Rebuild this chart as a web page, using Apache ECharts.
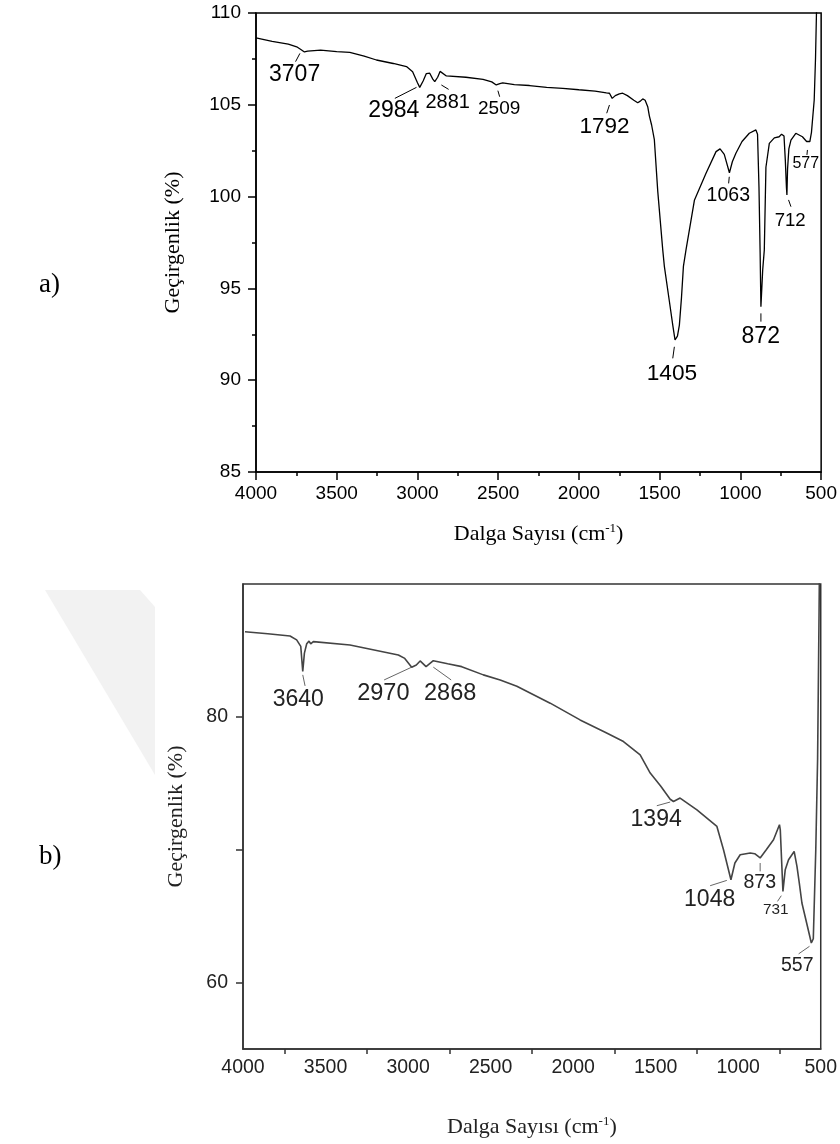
<!DOCTYPE html>
<html><head><meta charset="utf-8">
<script src="https://cdn.jsdelivr.net/npm/echarts@6/dist/echarts.min.js"></script>
<style>html,body{margin:0;padding:0;background:#fff}#c{width:840px;height:1144px}</style>
</head><body><div id="c"></div>
<script>
// ---- Panel a) data ----
const wavenumberA = [4000,3900,3800,3748,3720,3700,3680,3600,3500,3419,3330,3254,3150,3068,3030,3000,2986,2965,2945,2924,2905,2893,2875,2860,2852,2821,2700,2594,2540,2512,2490,2472,2400,2306,2200,2100,2000,1900,1830,1811,1794,1775,1750,1729,1700,1660,1636,1620,1605,1590,1574,1564,1550,1533,1512,1481,1471,1440,1419,1405,1399,1390,1378,1365,1353,1337,1285,1213,1151,1126,1100,1068,1050,1028,990,945,904,894,885,878,873,862,852,842,821,790,760,745,739,730,722,715,712,708,700,687,657,616,590,578,570,560,543,535,529,520];
const transA = [108.65,108.45,108.3,108.16,108.0,107.88,107.92,107.98,107.9,107.86,107.65,107.44,107.25,107.08,106.8,106.2,105.95,106.3,106.7,106.72,106.4,106.26,106.5,106.82,106.8,106.57,106.5,106.39,106.25,106.08,106.15,106.19,106.1,106.05,105.95,105.9,105.82,105.75,105.65,105.63,105.35,105.5,105.6,105.63,105.5,105.25,105.11,105.2,105.32,105.25,104.9,104.4,103.9,103.1,100.3,97.1,96.2,94.3,93.0,92.2,92.1,92.4,93.0,94.5,96.2,97.1,99.8,101.27,102.45,102.6,102.3,101.3,101.9,102.36,103.0,103.45,103.63,103.4,100.5,97.0,94.0,96.0,97.1,101.6,102.9,103.2,103.26,103.4,103.45,103.3,102.0,100.5,100.09,101.5,102.6,103.08,103.45,103.26,103.0,102.9,103.0,103.5,105.26,107.5,110.0,112.0];
const peakLabelsA = ['3707','2984','2881','2509','1792','1063','712','577','1405','872'];
// [text wavenumber, text value, leader start wn, leader start value, leader end wn, leader end value]
const peakAnchorsA = [
  [3761,106.62,3728,107.8,3755,107.35],
  [3147,104.66,3006,105.95,3140,105.35],
  [2813,105.13,2852,106.08,2807,105.84],
  [2494,104.81,2502,105.77,2491,105.44],
  [1842,103.81,1811,104.99,1828,104.54],
  [1075,100.03,1069,101.08,1073,100.72],
  [692,98.67,702,99.82,687,99.45],
  [595,101.78,585,102.54,588,102.27],
  [1424,90.34,1409,91.82,1419,91.19],
  [874,92.37,873,93.64,873,93.19]
];

// ---- Panel b) data ----
const wavenumberB = [3988,3850,3715,3675,3650,3638,3628,3614,3600,3590,3574,3352,3059,3020,2978,2950,2927,2891,2847,2760,2675,2544,2442,2341,2139,1958,1800,1695,1594,1533,1470,1412,1392,1352,1250,1129,1089,1044,1020,988,927,900,867,830,786,750,745,729,715,695,661,644,630,614,580,557,545,530,519,510,505];
const transB = [86.41,86.25,86.09,85.79,85.3,83.41,84.8,85.5,85.7,85.5,85.66,85.41,84.66,84.4,83.74,83.9,84.21,83.78,84.23,84.0,83.78,83.16,82.78,82.3,81.03,79.77,78.8,78.14,77.14,75.77,74.8,73.8,73.63,73.89,73.0,71.75,70.0,67.74,69.0,69.62,69.75,69.7,69.38,70.0,70.75,71.88,71.5,66.86,68.5,69.25,69.87,68.74,67.5,65.99,64.2,62.98,63.3,70.0,76.8,88.0,95.0];
const peakLabelsB = ['3640','2970','2868','1394','1048','873','731','557'];
const peakAnchorsB = [
  [3665,81.28,3638,83.16,3624,82.33],
  [3150,81.73,3145,82.78,2978,83.74],
  [2745,81.73,2847,83.74,2739,82.78],
  [1497,72.26,1493,73.31,1412,73.59],
  [1173,66.26,1170,67.29,1069,67.69],
  [869,67.5,867,69.0,867,68.37],
  [773,65.49,762,66.11,739,66.54],
  [642,61.28,634,62.16,568,62.73]
];

// axis tick labels
const xTicks = [4000,3500,3000,2500,2000,1500,1000,500];
const yTicksA = [85,90,95,100,105,110];
const yTicksB = [60,80];
const xMinorTicksB = [3750,3250,2750,2250,1750,1250,750];
const yTickMarksB = [60,70,80];

// ---- styles (not data) ----
const fontSizeA = {'3707':23,'2984':23,'2881':20,'2509':19,'1792':22.5,'1063':19.5,'712':18.6,'577':16,'1405':22.7,'872':23};
const fontSizeB = {'3640':23,'2970':23.5,'2868':23.5,'1394':23,'1048':23,'873':19.6,'731':15.3,'557':19.5};
const SANS = '"Liberation Sans", Arial, sans-serif';
const SERIF = '"Liberation Serif", "Times New Roman", serif';
const plain = v => String(v);

function zip(a,b){return a.map((x,i)=>[x,b[i]]);}

function annotSeries(gridIdx, labels, anchors, sizes, textColor, lineColor){
  return {
    type:'custom', xAxisIndex:gridIdx, yAxisIndex:gridIdx, clip:false, silent:true,
    encode:{x:[0,2,4], y:[1,3,5]},
    data: anchors,
    renderItem: function(params, api){
      const i = params.dataIndex;
      const t = api.coord([api.value(0), api.value(1)]);
      const a = api.coord([api.value(2), api.value(3)]);
      const b = api.coord([api.value(4), api.value(5)]);
      return {type:'group', children:[
        {type:'line', shape:{x1:a[0],y1:a[1],x2:b[0],y2:b[1]}, style:{stroke:lineColor, lineWidth:1}},
        {type:'text', x:t[0], y:t[1], style:{text:labels[i], align:'center', verticalAlign:'middle',
          fontSize:sizes[labels[i]], fontFamily:SANS, fill:textColor}}
      ]};
    }
  };
}

const axisLineA = {show:true, lineStyle:{color:'#000', width:1.5}};
const axisLineB = {show:true, lineStyle:{color:'#333', width:1.5}};

const option = {
  backgroundColor:'#fff',
  animation:false,
  graphic:[
    {type:'polygon', z:-10, shape:{points:[[45,590],[140,590],[155,607],[155,775]]}, style:{fill:'#f2f2f2'}},
    {type:'text', left:39, top:271, style:{text:'a)', fontSize:27, fontFamily:SERIF, fill:'#000'}},
    {type:'text', left:39, top:843, style:{text:'b)', fontSize:27, fontFamily:SERIF, fill:'#000'}}
  ],
  grid:[
    {left:256, top:13, width:566, height:459, show:true, borderColor:'#000', borderWidth:1.5, backgroundColor:'transparent'},
    {left:243, top:584, width:578, height:465, show:true, borderColor:'#333', borderWidth:1.5, backgroundColor:'#fff'}
  ],
  xAxis:[
    {gridIndex:0, type:'value', min:500, max:4000, interval:500, inverse:true,
     axisLine:axisLineA, splitLine:{show:false},
     axisTick:{show:true, inside:false, length:8, lineStyle:{color:'#000', width:1.5}},
     minorTick:{show:true, splitNumber:2, length:4, lineStyle:{color:'#000', width:1.5}},
     axisLabel:{customValues:xTicks, formatter:plain, margin:12, fontSize:19, fontFamily:SANS, color:'#000'},
     name:'Dalga Sayısı (cm{sup|-1})', nameLocation:'middle', nameGap:50,
     nameTextStyle:{fontSize:22, fontFamily:SERIF, color:'#000', rich:{sup:{fontSize:13, fontFamily:SERIF, verticalAlign:'top', padding:[0,0,12,0]}}}},
    {gridIndex:1, type:'value', min:500, max:4000, interval:500, inverse:true,
     axisLine:axisLineB, splitLine:{show:false},
     axisTick:{show:true, inside:false, length:5, customValues:xMinorTicksB, lineStyle:{color:'#333', width:1.5}},
     axisLabel:{customValues:xTicks, formatter:plain, margin:9, fontSize:19.5, fontFamily:SANS, color:'#222'},
     name:'Dalga Sayısı (cm{sup|-1})', nameLocation:'middle', nameGap:66,
     nameTextStyle:{fontSize:22, fontFamily:SERIF, color:'#222', rich:{sup:{fontSize:13, fontFamily:SERIF, verticalAlign:'top', padding:[0,0,12,0]}}}}
  ],
  yAxis:[
    {gridIndex:0, type:'value', min:85, max:110, interval:5,
     axisLine:axisLineA, splitLine:{show:false},
     axisTick:{show:true, inside:false, length:8, lineStyle:{color:'#000', width:1.5}},
     minorTick:{show:true, splitNumber:2, length:4, lineStyle:{color:'#000', width:1.5}},
     axisLabel:{customValues:yTicksA, formatter:plain, margin:15, fontSize:19, fontFamily:SANS, color:'#000'},
     name:'Geçirgenlik (%)', nameLocation:'middle', nameGap:72, nameRotate:90,
     nameTextStyle:{fontSize:22, fontFamily:SERIF, color:'#000'}},
    {gridIndex:1, type:'value', min:55, max:90,
     axisLine:axisLineB, splitLine:{show:false},
     axisTick:{show:true, inside:false, length:7, customValues:yTickMarksB, lineStyle:{color:'#333', width:1.5}},
     axisLabel:{customValues:yTicksB, formatter:plain, margin:15, fontSize:19.5, fontFamily:SANS, color:'#222'},
     name:'Geçirgenlik (%)', nameLocation:'middle', nameGap:56, nameRotate:90,
     nameTextStyle:{fontSize:22, fontFamily:SERIF, color:'#222'}}
  ],
  series:[
    {type:'line', xAxisIndex:0, yAxisIndex:0, data:zip(wavenumberA, transA), showSymbol:false, clip:true,
     lineStyle:{color:'#000', width:1.3}},
    {type:'line', xAxisIndex:1, yAxisIndex:1, data:zip(wavenumberB, transB), showSymbol:false, clip:true,
     lineStyle:{color:'#444', width:1.6}},
    annotSeries(0, peakLabelsA, peakAnchorsA, fontSizeA, '#000', '#000'),
    annotSeries(1, peakLabelsB, peakAnchorsB, fontSizeB, '#222', '#666')
  ]
};
const chart = echarts.init(document.getElementById('c'), null, {renderer:'canvas'});
chart.setOption(option);
</script></body></html>
